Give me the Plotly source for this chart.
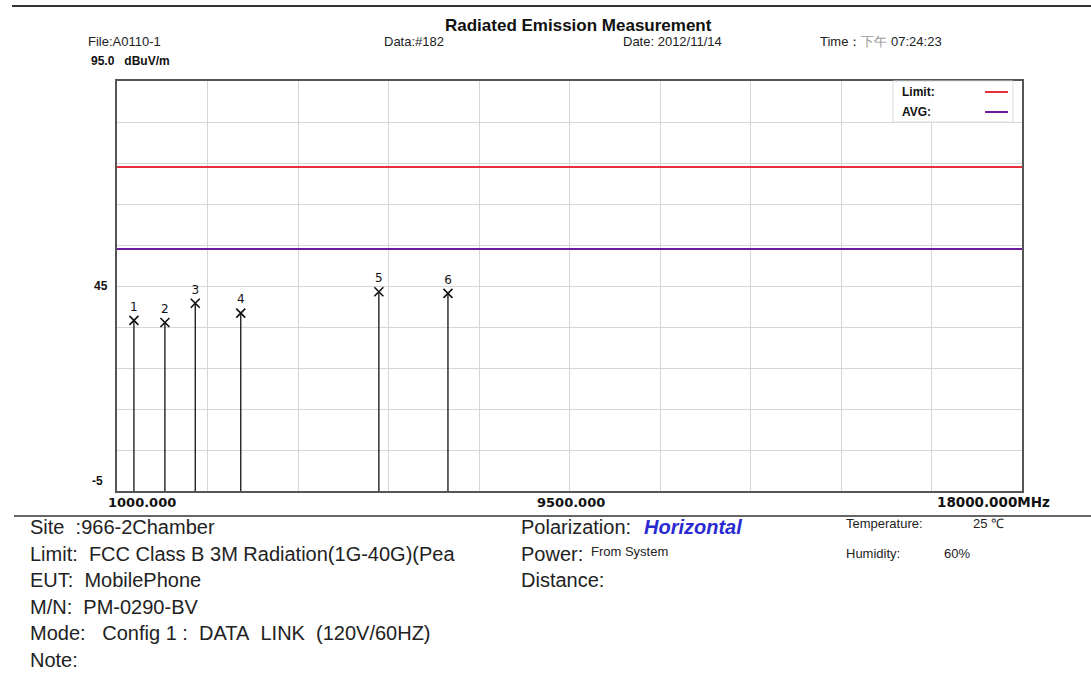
import plotly.graph_objects as go

# ---------------- data ----------------
marker_ids = ["1", "2", "3", "4", "5", "6"]
freq_mhz = [1318, 1900, 2470, 3325, 5919, 7217]
level_dbuv = [36.6, 36.1, 40.8, 38.4, 43.6, 43.2]

limit_freq = [1000, 18000]
limit_peak = [74, 74]   # "Limit" line
limit_avg = [54, 54]    # "AVG" line

x_range = [1000, 18000]
y_range = [-5, 95]
x_dtick = 1700
y_dtick = 10

# ---------------- geometry helpers ----------------
W, H = 1091, 675
L, R, T, B = 117, 1022, 81, 491
PW, PH = R - L, B - T


def PX(px):
    return (px - L) / PW


def PY(py):
    return (B - py) / PH


FONT = "Arial, 'Liberation Sans', sans-serif"
BFONT = "'DejaVu Sans', Arial, sans-serif"

fig = go.Figure()

# stems from floor to each marker
stem_x, stem_y = [], []
for f, v in zip(freq_mhz, level_dbuv):
    stem_x += [f, f, None]
    stem_y += [y_range[0], v, None]
fig.add_trace(go.Scatter(x=stem_x, y=stem_y, mode="lines",
                         line=dict(color="#111111", width=1.3),
                         hoverinfo="skip", showlegend=False))

# limit lines
fig.add_trace(go.Scatter(x=limit_freq, y=limit_peak, mode="lines", name="Limit",
                         line=dict(color="#e8303c", width=2), showlegend=False))
fig.add_trace(go.Scatter(x=limit_freq, y=limit_avg, mode="lines", name="AVG",
                         line=dict(color="#6a1c9e", width=2), showlegend=False))

# markers
fig.add_trace(go.Scatter(x=freq_mhz, y=level_dbuv, mode="markers+text",
                         text=marker_ids, textposition="top center",
                         textfont=dict(family=BFONT, size=12, color="#111111"),
                         marker=dict(symbol="x-thin", size=9,
                                     line=dict(color="#111111", width=1.6)),
                         showlegend=False))

fig.update_xaxes(range=x_range, dtick=x_dtick, tick0=x_range[0],
                 showgrid=True, gridcolor="#d6d6d6", gridwidth=1,
                 showline=True, linecolor="#555555", linewidth=1.5, mirror=True,
                 showticklabels=False, zeroline=False, ticks="")
fig.update_yaxes(range=y_range, dtick=y_dtick, tick0=y_range[0],
                 showgrid=True, gridcolor="#d6d6d6", gridwidth=1,
                 showline=True, linecolor="#555555", linewidth=1.5, mirror=True,
                 showticklabels=False, zeroline=False, ticks="")

ann = []


def text(x, y, s, size=13, bold=False, color="#222222", anchor="left", italic=False, fam=FONT):
    t = s
    if bold:
        t = "<b>" + t + "</b>"
    if italic:
        t = "<i>" + t + "</i>"
    ann.append(dict(x=PX(x), y=PY(y), xref="paper", yref="paper", text=t,
                    showarrow=False, xanchor=anchor, yanchor="middle",
                    font=dict(family=fam, size=size, color=color)))


# header
text(578, 25, "Radiated Emission Measurement", size=17, bold=True, anchor="center", color="#111111")
text(86, 42, "File:A0110-1", size=13)
text(382, 42, "Data:#182", size=13)
text(621, 42, "Date: 2012/11/14", size=13)
text(818, 42, "Time：<span style='color:#999999'>下午</span> 07:24:23", size=13)
text(89, 61, "95.0&nbsp;&nbsp;&nbsp;dBuV/m", size=12, bold=True, color="#111111")

# y labels
text(110, 286, "45", size=12, bold=True, anchor="right", color="#111111")
text(105, 481, "-5", size=12, bold=True, anchor="right", color="#111111")

# x labels
text(106, 502, "1000.000", size=13, bold=True, color="#111111", fam=BFONT)
text(571, 502, "9500.000", size=13, bold=True, anchor="center", color="#111111", fam=BFONT)
text(935, 502, "18000.000MHz", size=13.5, bold=True, color="#111111", fam=BFONT)

# legend
text(900, 92, "Limit:", size=12, bold=True, color="#111111")
text(900, 112, "AVG:", size=12, bold=True, color="#111111")

# bottom info
rows_y = [527, 554, 580, 607, 633, 660]
text(28, rows_y[0], "Site&nbsp;&nbsp;:966-2Chamber", size=20)
text(28, rows_y[1], "Limit:&nbsp;&nbsp;FCC Class B 3M Radiation(1G-40G)(Pea", size=20)
text(28, rows_y[2], "EUT:&nbsp;&nbsp;MobilePhone", size=20)
text(28, rows_y[3], "M/N:&nbsp;&nbsp;PM-0290-BV", size=20)
text(28, rows_y[4], "Mode:&nbsp;&nbsp;&nbsp;Config 1 :&nbsp;&nbsp;DATA&nbsp;&nbsp;LINK&nbsp;&nbsp;(120V/60HZ)", size=20)
text(28, rows_y[5], "Note:", size=20)

text(519, rows_y[0], "Polarization:", size=20)
text(642, rows_y[0], "Horizontal", size=20, bold=True, italic=True, color="#2a2ad0")
text(519, rows_y[1], "Power:", size=20)
text(589, 551, "From System", size=13)
text(519, rows_y[2], "Distance:", size=20)

text(844, 523, "Temperature:", size=13)
text(971, 523, "25 ℃", size=13)
text(844, 553, "Humidity:", size=13)
text(942, 553, "60%", size=13)

shapes = [
    # top rule
    dict(type="line", xref="paper", yref="paper", x0=PX(12), x1=PX(1091), y0=PY(6), y1=PY(6),
         line=dict(color="#333333", width=2)),
    # rule under x labels
    dict(type="line", xref="paper", yref="paper", x0=PX(14), x1=PX(1091), y0=PY(516), y1=PY(516),
         line=dict(color="#333333", width=1.5)),
    # legend box
    dict(type="rect", xref="paper", yref="paper", x0=PX(893), x1=PX(1013), y0=PY(122), y1=PY(81),
         line=dict(color="#dddddd", width=1), fillcolor="rgba(255,255,255,0.9)", layer="above"),
    dict(type="line", xref="paper", yref="paper", x0=PX(985), x1=PX(1008), y0=PY(92), y1=PY(92),
         line=dict(color="#e8303c", width=2)),
    dict(type="line", xref="paper", yref="paper", x0=PX(985), x1=PX(1008), y0=PY(112), y1=PY(112),
         line=dict(color="#6a1c9e", width=2)),
]

fig.update_layout(width=W, height=H, margin=dict(l=L, r=W - R, t=T, b=H - B),
                  paper_bgcolor="white", plot_bgcolor="white",
                  annotations=ann, shapes=shapes, showlegend=False,
                  font=dict(family=FONT))

fig.write_html("out.html", config={"displayModeBar": False},
               post_script="document.body.style.margin='0';document.body.style.overflow='hidden';")
